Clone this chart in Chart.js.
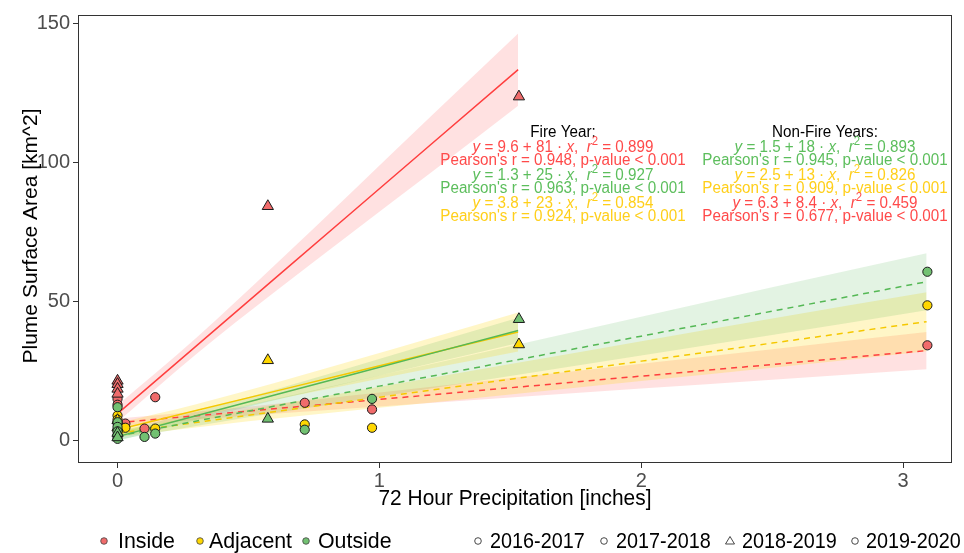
<!DOCTYPE html>
<html><head><meta charset="utf-8">
<script src="https://cdn.jsdelivr.net/npm/chart.js@4.4.0/dist/chart.umd.min.js"></script>
<style>html,body{margin:0;padding:0;background:#fff;}#wrap{width:964px;height:553px;position:relative}</style>
</head><body><div id="wrap"><canvas id="c" width="964" height="553"></canvas></div>
<script>
// ---------- data ----------
const categories = ['Inside', 'Adjacent', 'Outside'];
const years = ['2016-2017', '2017-2018', '2018-2019', '2019-2020'];
const xTicks = [0, 1, 2, 3];
const yTicks = [0, 50, 100, 150];

// Fire year (2018-2019) observations (triangles)
const insideFireX   = [0, 0, 0, 0, 0.574, 1.533];
const insideFireY   = [21.4, 20.2, 18.5, 16.7, 84.3, 123.8];
const adjacentFireX = [0, 0, 0.574, 1.533];
const adjacentFireY = [7.2, 4.6, 28.8, 34.5];
const outsideFireX  = [0, 0, 0.574, 1.533];
const outsideFireY  = [2.6, 1.0, 7.7, 43.6];

// Non-fire years observations (circles)
const insideNonX   = [0, 0, 0.03, 0.103, 0.144, 0.715, 0.972, 3.093];
const insideNonY   = [14.9, 12.8, 6.0, 4.2, 15.5, 13.5, 11.1, 34.2];
const adjacentNonX = [0, 0, 0, 0, 0, 0.03, 0.144, 0.715, 0.972, 3.093];
const adjacentNonY = [8.9, 7.4, 6.1, 3.5, 2.0, 4.5, 4.2, 5.7, 4.5, 48.6];
const outsideNonX  = [0, 0, 0, 0, 0, 0, 0.103, 0.144, 0.715, 0.972, 3.093];
const outsideNonY  = [11.9, 6.5, 4.8, 3.2, 1.5, 0.5, 1.2, 2.4, 3.8, 14.9, 60.7];

// Fitted lines and confidence bands, fire year
const fireBandX    = [0, 0.3, 0.6, 0.9, 1.2, 1.53];
const insideFireFit = [9.6, 33.9, 58.2, 82.5, 106.8, 133.5];
const insideFireLo  = [6.6, 31.0, 53.4, 75.1, 96.6, 120.5];
const insideFireHi  = [12.6, 36.8, 63.0, 89.9, 117.0, 146.5];
const outsideFireFit = [1.3, 8.8, 16.3, 23.8, 31.3, 39.55];
const outsideFireLo  = [-0.3, 7.3, 14.4, 21.1, 27.7, 35.0];
const outsideFireHi  = [2.9, 10.3, 18.2, 26.5, 34.9, 44.1];
const adjacentFireFit = [3.8, 10.7, 17.6, 24.5, 31.4, 39.0];
const adjacentFireLo  = [1.4, 8.4, 14.6, 20.3, 25.9, 32.0];
const adjacentFireHi  = [6.2, 13.0, 20.6, 28.7, 36.9, 46.0];

// Fitted lines and confidence bands, non-fire years
const nonBandX = [0, 0.5, 1, 1.5, 2, 2.5, 3.09];
const outsideNonFit = [1.5, 10.5, 19.5, 28.5, 37.5, 46.5, 57.1];
const outsideNonLo  = [0.2, 8.3, 15.7, 23.1, 30.5, 37.9, 46.8];
const outsideNonHi  = [2.8, 12.7, 23.3, 33.9, 44.5, 55.1, 67.4];
const adjacentNonFit = [2.5, 9.0, 15.5, 22.0, 28.5, 35.0, 42.7];
const adjacentNonLo  = [1.2, 6.8, 11.7, 16.5, 21.3, 26.1, 32.1];
const adjacentNonHi  = [3.8, 11.2, 19.3, 27.5, 35.7, 43.9, 53.3];
const insideNonFit = [6.3, 10.5, 14.7, 18.9, 23.1, 27.3, 32.3];
const insideNonLo  = [4.8, 8.9, 12.2, 15.4, 18.6, 21.8, 25.6];
const insideNonHi  = [7.8, 12.1, 17.2, 22.4, 27.6, 32.8, 39.0];

// Annotation texts
const fireStats = [
  {cat: 'Inside',   b0: '9.6', b1: '81', r2: '0.899', r: '0.948'},
  {cat: 'Outside',  b0: '1.3', b1: '25', r2: '0.927', r: '0.963'},
  {cat: 'Adjacent', b0: '3.8', b1: '23', r2: '0.854', r: '0.924'}
];
const nonFireStats = [
  {cat: 'Outside',  b0: '1.5', b1: '18', r2: '0.893', r: '0.945'},
  {cat: 'Adjacent', b0: '2.5', b1: '13', r2: '0.826', r: '0.909'},
  {cat: 'Inside',   b0: '6.3', b1: '8.4', r2: '0.459', r: '0.677'}
];

// ---------- styling ----------
const FONT = '"Liberation Sans", Arial, Helvetica, sans-serif';
const pointFill = {Inside: '#F06B6B', Adjacent: '#FFD700', Outside: '#72C172'};
const lineCol   = {Inside: '#FF3E3E', Adjacent: '#F5C800', Outside: '#55B855'};
const textCol   = {Inside: '#FF4A4A', Adjacent: '#FFCF1A', Outside: '#5CBE5C'};
const bandCol   = {Inside: 'rgba(255,40,40,0.14)', Adjacent: 'rgba(255,215,0,0.22)', Outside: 'rgba(60,170,60,0.14)'};

const xy = (xs, ys) => xs.map((x, i) => ({x: x, y: ys[i]}));

const datasets = [];
function pts(label, xs, ys, cat, tri) {
  datasets.push({type: 'scatter', label: label, data: xy(xs, ys), order: 0,
    pointStyle: tri ? 'triangle' : 'circle', pointRadius: tri ? 6.5 : 4.6,
    backgroundColor: pointFill[cat], borderColor: '#1a1a1a', borderWidth: 1, pointHoverRadius: tri ? 6.5 : 4.6});
}
pts('Outside fire', outsideFireX, outsideFireY, 'Outside', true);
pts('Outside non', outsideNonX, outsideNonY, 'Outside', false);
pts('Adjacent fire', adjacentFireX, adjacentFireY, 'Adjacent', true);
pts('Adjacent non', adjacentNonX, adjacentNonY, 'Adjacent', false);
pts('Inside fire', insideFireX, insideFireY, 'Inside', true);
pts('Inside non', insideNonX, insideNonY, 'Inside', false);

function fitLine(label, xs, ys, cat, dashed) {
  datasets.push({type: 'line', label: label, data: xy(xs, ys), order: 1,
    borderColor: lineCol[cat], borderWidth: 1.5, borderDash: dashed ? [6, 5] : [],
    pointRadius: 0, fill: false, tension: 0});
}
fitLine('Inside fit fire', fireBandX, insideFireFit, 'Inside', false);
fitLine('Outside fit fire', fireBandX, outsideFireFit, 'Outside', false);
fitLine('Adjacent fit fire', fireBandX, adjacentFireFit, 'Adjacent', false);
fitLine('Outside fit non', nonBandX, outsideNonFit, 'Outside', true);
fitLine('Adjacent fit non', nonBandX, adjacentNonFit, 'Adjacent', true);
fitLine('Inside fit non', nonBandX, insideNonFit, 'Inside', true);

function band(label, xs, lo, hi, cat) {
  const loIdx = datasets.length;
  datasets.push({type: 'line', label: label + ' lo', data: xy(xs, lo), order: 2,
    borderWidth: 0, borderColor: 'rgba(0,0,0,0)', pointRadius: 0, fill: false, cubicInterpolationMode: 'monotone'});
  datasets.push({type: 'line', label: label + ' hi', data: xy(xs, hi), order: 2,
    borderWidth: 0, borderColor: 'rgba(0,0,0,0)', pointRadius: 0, cubicInterpolationMode: 'monotone',
    fill: {target: loIdx}, backgroundColor: bandCol[cat]});
}
band('Inside fire', fireBandX, insideFireLo, insideFireHi, 'Inside');
band('Outside fire', fireBandX, outsideFireLo, outsideFireHi, 'Outside');
band('Adjacent fire', fireBandX, adjacentFireLo, adjacentFireHi, 'Adjacent');
band('Outside non', nonBandX, outsideNonLo, outsideNonHi, 'Outside');
band('Adjacent non', nonBandX, adjacentNonLo, adjacentNonHi, 'Adjacent');
band('Inside non', nonBandX, insideNonLo, insideNonHi, 'Inside');

// ---------- custom drawing ----------
function txt(ctx, s, x, y, align, sx) {
  ctx.save();
  ctx.translate(x, y);
  ctx.scale(sx, 1);
  ctx.textAlign = align;
  ctx.fillText(s, 0, 0);
  ctx.restore();
}

function drawEq(ctx, cx, cy, s, size, sx) {
  const segs = [
    {t: 'y', it: true}, {t: ' = ' + s.b0 + ' + ' + s.b1 + ' \u00B7 '}, {t: 'x', it: true}, {t: ',  '},
    {t: 'r', it: true}, {t: '2', sup: true}, {t: ' = ' + s.r2}
  ];
  const fontOf = g => (g.it ? 'italic ' : '') + (g.sup ? Math.round(size * 0.75) : size) + 'px ' + FONT;
  let w = 0;
  segs.forEach(g => { ctx.font = fontOf(g); g.w = ctx.measureText(g.t).width * sx; w += g.w; });
  let x = cx - w / 2;
  segs.forEach(g => {
    ctx.font = fontOf(g);
    txt(ctx, g.t, x, g.sup ? cy - size * 0.38 : cy, 'left', sx);
    x += g.w;
  });
}

const decor = {
  id: 'decor',
  afterDraw(chart) {
    const ctx = chart.ctx, a = chart.chartArea;
    ctx.save();
    ctx.strokeStyle = '#333';
    ctx.lineWidth = 1;
    ctx.strokeRect(Math.round(a.left) + 0.5, Math.round(a.top) + 0.5, Math.round(a.right - a.left) - 1, Math.round(a.bottom - a.top) - 1);

    // axis titles
    ctx.fillStyle = '#000';
    ctx.textBaseline = 'middle';
    ctx.font = '22px ' + FONT;
    txt(ctx, '72 Hour Precipitation [inches]', (a.left + a.right) / 2, 499, 'center', 0.95);
    ctx.save();
    ctx.translate(31, (a.top + a.bottom) / 2 - 3);
    ctx.rotate(-Math.PI / 2);
    ctx.font = '21px ' + FONT;
    ctx.textAlign = 'center';
    ctx.fillText('Plume Surface Area [km^2]', 0, 0);
    ctx.restore();

    // annotations
    const size = 16, sx = 0.95;
    function block(cx, title, stats) {
      ctx.fillStyle = '#000';
      ctx.font = size + 'px ' + FONT;
      txt(ctx, title, cx, 133, 'center', sx);
      stats.forEach((s, i) => {
        const y = 147.5 + i * 28;
        ctx.fillStyle = textCol[s.cat];
        drawEq(ctx, cx, y, s, size, sx);
        ctx.font = size + 'px ' + FONT;
        txt(ctx, "Pearson's r = " + s.r + ', p-value < 0.001', cx, y + 13.5, 'center', sx);
      });
    }
    block(563, 'Fire Year:', fireStats);
    block(825, 'Non-Fire Years:', nonFireStats);

    // legend
    const ly = 541;
    ctx.font = '22px ' + FONT;
    ctx.fillStyle = '#000';
    const catPos = [[104, 118], [200, 209], [306, 318]];
    categories.forEach((c, i) => {
      ctx.beginPath();
      ctx.arc(catPos[i][0], ly, 3.3, 0, Math.PI * 2);
      ctx.fillStyle = pointFill[c];
      ctx.fill();
      ctx.strokeStyle = '#444';
      ctx.lineWidth = 0.8;
      ctx.stroke();
      ctx.fillStyle = '#000';
      txt(ctx, c, catPos[i][1], ly + 1, 'left', 0.97);
    });
    const yrPos = [[478, 490], [604, 616], [730, 742], [855, 866]];
    years.forEach((yname, i) => {
      ctx.beginPath();
      if (yname === '2018-2019') {
        ctx.moveTo(yrPos[i][0], ly - 4.5);
        ctx.lineTo(yrPos[i][0] + 4.5, ly + 3);
        ctx.lineTo(yrPos[i][0] - 4.5, ly + 3);
        ctx.closePath();
      } else {
        ctx.arc(yrPos[i][0], ly, 3.3, 0, Math.PI * 2);
      }
      ctx.strokeStyle = '#333';
      ctx.lineWidth = 0.9;
      ctx.stroke();
      ctx.fillStyle = '#000';
      txt(ctx, yname, yrPos[i][1], ly + 1, 'left', 0.9);
    });
    ctx.restore();
  }
};

new Chart(document.getElementById('c'), {
  type: 'scatter',
  data: {datasets: datasets},
  options: {
    responsive: false,
    animation: false,
    devicePixelRatio: 1,
    layout: {padding: {left: 0, right: 12, top: 11, bottom: 0}},
    plugins: {legend: {display: false}, tooltip: {enabled: false}},
    scales: {
      x: {
        type: 'linear', min: -0.151, max: 3.187,
        afterBuildTicks: s => { s.ticks = xTicks.map(v => ({value: v})); },
        afterFit: s => { s.height = 90; },
        grid: {drawOnChartArea: false, drawTicks: true, tickLength: 5, color: '#333'},
        border: {display: false},
        ticks: {color: '#4D4D4D', font: {family: FONT, size: 20}, padding: 1, maxRotation: 0,
          callback: v => String(v)}
      },
      y: {
        type: 'linear', min: -8.2, max: 153.2,
        afterBuildTicks: s => { s.ticks = yTicks.map(v => ({value: v})); },
        afterFit: s => { s.width = 78; },
        grid: {drawOnChartArea: false, drawTicks: true, tickLength: 5, color: '#333'},
        border: {display: false},
        ticks: {color: '#4D4D4D', font: {family: FONT, size: 20}, padding: 3,
          callback: v => String(v)}
      }
    }
  },
  plugins: [decor]
});
</script></body></html>
